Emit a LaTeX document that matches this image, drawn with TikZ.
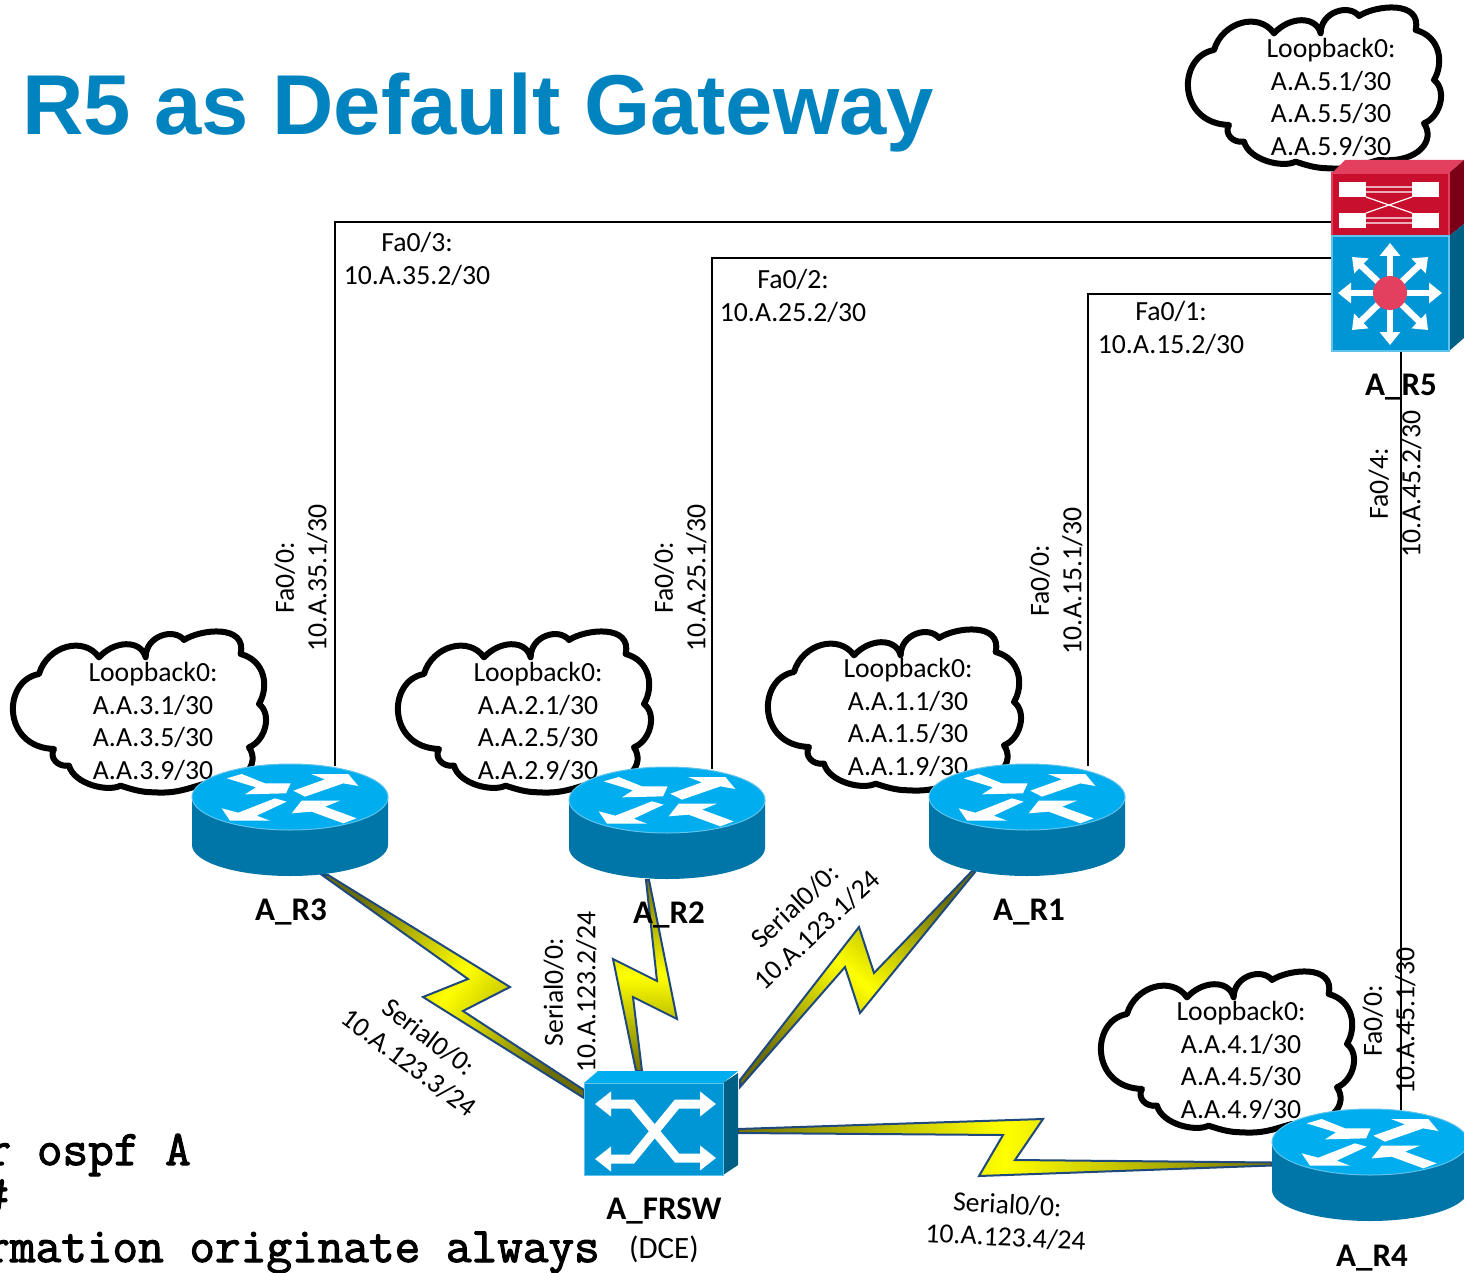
\documentclass[tikz,border=0pt]{standalone}
\usepackage{fontspec}
\usetikzlibrary{arrows.meta,calc}
\newfontfamily\lblfont{Carlito}
\newfontfamily\titlefont{Liberation Sans}
\newfontfamily\codefont[FakeBold=2.2]{Latin Modern Mono}
\definecolor{titleblue}{HTML}{0083BE}
\definecolor{topblue}{HTML}{00AEEF}
\definecolor{sideblue}{HTML}{0076A8}
\definecolor{frontblue}{HTML}{0096D6}
\definecolor{darkblue}{HTML}{005F85}
\definecolor{edgeblue}{HTML}{5FC3EC}
\definecolor{redfront}{HTML}{C8102E}
\definecolor{redtop}{HTML}{E34060}
\definecolor{redside}{HTML}{7A0018}
\definecolor{boltedge}{HTML}{1F497D}
\definecolor{boltdark}{HTML}{6E6E00}
\pgfdeclarehorizontalshading{boltshade}{100bp}{color(0bp)=(boltdark); color(24bp)=(boltdark); color(50bp)=(yellow); color(76bp)=(boltdark); color(100bp)=(boltdark)}
\tikzset{
  x=1pt,y=-1pt,
  devbox/.style={inner sep=0pt,outer sep=0pt,minimum width=#1},
  lbl/.style={inner sep=0pt,align=center,font=\lblfont\fontsize{27.7}{32.5}\selectfont},
  devname/.style={inner sep=0pt,font=\lblfont\bfseries\fontsize{33}{38}\selectfont},
  codetext/.style={inner sep=0pt,anchor=base east,font=\codefont\fontsize{49.8}{52}\selectfont},
  link/.style={draw=black,line width=2pt},
  bolt/.style={draw=boltedge,line width=2pt,line join=miter,shading=boltshade},
  cloudline/.style={draw=black,fill=white,line width=6pt,line join=round},
  routerarrow/.style={fill=white,draw=none},
}
\newcommand{\cloudshape}[2]{%
 \begin{scope}[shift={(#1,#2)},x=0.3333pt,y=-0.3333pt]
 \path[cloudline] (285,100) .. controls (330,50) and (410,45) .. (425,100)
  .. controls (425,35) and (510,10) .. (540,48)
  .. controls (590,15) and (730,0) .. (710,90)
  .. controls (785,110) and (795,190) .. (765,240)
  .. controls (805,270) and (785,350) .. (735,370)
  .. controls (770,420) and (720,490) .. (600,480)
  .. controls (560,490) and (520,510) .. (450,505)
  .. controls (410,505) and (380,495) .. (350,485)
  .. controls (310,505) and (210,480) .. (195,425)
  .. controls (160,430) and (135,400) .. (150,375)
  .. controls (-6,370) and (-6,170) .. (105,150)
  .. controls (130,65) and (240,35) .. (285,100) -- cycle;
 \end{scope}}
\newcommand{\routericon}[2]{%
 \fill[sideblue] (#1-98,#2) -- (#1-98,#2+48) arc[start angle=180,end angle=0,x radius=98,y radius=31] -- (#1+98,#2) -- cycle;
 \path[fill=topblue,draw=edgeblue,line width=1pt] (#1,#2) ellipse[x radius=98,y radius=33];
 \begin{scope}[shift={(#1,#2)},x=0.3333pt,y=-0.3333pt,shift={(-330,-141)}]
  \path[routerarrow] (140,85) -- (185,72) -- (255,100) -- (332,100) -- (318,130) -- (195,133) -- (228,112) -- cycle;
  \path[routerarrow] (340,122) -- (435,88) -- (393,72) -- (505,72) -- (535,108) -- (490,100) -- (375,140) -- cycle;
  \path[routerarrow] (320,155) -- (285,145) -- (175,188) -- (125,175) -- (150,212) -- (270,212) -- (230,197) -- cycle;
  \path[routerarrow] (335,190) -- (365,152) -- (480,152) -- (435,170) -- (530,205) -- (490,220) -- (395,185) -- cycle;
 \end{scope}}
\begin{document}
\begin{tikzpicture}[x=1pt,y=-1pt]
\useasboundingbox (0,0) rectangle (1464,1273);
\fill[white] (0,0) rectangle (1464,1273);

% invisible device frames
\node[devbox=132pt,minimum height=192pt] (R5) at (1398,256) {};
\node[devbox=196pt,minimum height=111pt] (R3) at (290,821) {};
\node[devbox=196pt,minimum height=111pt] (R2) at (667,824) {};
\node[devbox=196pt,minimum height=111pt] (R1) at (1027,821) {};
\node[devbox=196pt,minimum height=111pt] (R4) at (1370,1165.5) {};
\node[devbox=154pt,minimum height=104pt] (FRSW) at (661,1123) {};

% title and code text
\node[inner sep=0pt,anchor=base west,text=titleblue,font=\titlefont\bfseries\fontsize{85}{90}\selectfont] (title) at (22,135) {R5 as Default Gateway};
\node[codetext] (code1) at (191,1165) {r ospf A};
\node[codetext] (code2) at (9,1210) {\#};
\node[codetext] (code3) at (600,1262) {rmation originate always};

% clouds
\cloudshape{1179}{0}
\cloudshape{4}{624}
\cloudshape{389}{624}
\cloudshape{759}{622}
\cloudshape{1092}{964}
\node[lbl] (lo5) at (1331,97.5) {Loopback0:\\A.A.5.1/30\\A.A.5.5/30\\A.A.5.9/30};
\node[lbl] (lo3) at (153,721.5) {Loopback0:\\A.A.3.1/30\\A.A.3.5/30\\A.A.3.9/30};
\node[lbl] (lo2) at (538,721.5) {Loopback0:\\A.A.2.1/30\\A.A.2.5/30\\A.A.2.9/30};
\node[lbl] (lo1) at (908,717.5) {Loopback0:\\A.A.1.1/30\\A.A.1.5/30\\A.A.1.9/30};
\node[lbl] (lo4) at (1241,1060.5) {Loopback0:\\A.A.4.1/30\\A.A.4.5/30\\A.A.4.9/30};

% ethernet links
\draw[link] ([xshift=45pt]R3.north) |- ([yshift=34pt]R5.west);
\draw[link] ([xshift=45pt]R2.north) |- ([yshift=-2pt]R5.west);
\draw[link] ([xshift=61pt]R1.north) |- ([yshift=-38pt]R5.west);
\draw[link] ([xshift=3pt]R5.south) -- ([xshift=31pt]R4.north);

% serial links
\path[bolt,shading angle=-38] ([xshift=32pt,yshift=-54pt]R3.center) -- (468,979) -- (423,997) -- ([xshift=-77pt,yshift=25pt]FRSW.center) -- ([xshift=-77pt,yshift=33pt]FRSW.center) -- (463,1011) -- (510,987) -- ([xshift=38pt,yshift=-54pt]R3.center) -- cycle;
\path[bolt,shading angle=90] ([xshift=-21pt,yshift=-56pt]R2.center) -- (657,981) -- (613,959) -- ([xshift=-25pt,yshift=52pt]FRSW.center) -- ([xshift=-19pt,yshift=52pt]FRSW.center) -- (633,997) -- (677,1019) -- ([xshift=-18pt,yshift=-56pt]R2.center) -- cycle;
\path[bolt,shading angle=50] ([xshift=79pt,yshift=43pt]FRSW.center) -- (859,927) -- (874,973) -- ([xshift=-54pt,yshift=-49pt]R1.center) -- ([xshift=-52pt,yshift=-51pt]R1.center) -- (860,1013) -- (845,967) -- ([xshift=79pt,yshift=36pt]FRSW.center) -- cycle;
\path[bolt,shading angle=0] ([xshift=77pt,yshift=-6pt]FRSW.center) -- (1043,1119) -- (1015,1160) -- ([xshift=-98pt,yshift=3pt]R4.center) -- ([xshift=-98pt,yshift=0pt]R4.center) -- (979,1176) -- (1003,1135) -- ([xshift=77pt,yshift=-10pt]FRSW.center) -- cycle;

% routers
\routericon{290}{797}
\routericon{667}{800}
\routericon{1027}{797}
\routericon{1370}{1142}

% A_R5 multilayer switch
\fill[redtop] (1332,173) -- (1345,160) -- (1464,160) -- (1449,173) -- cycle;
\fill[redside] (1449,173) -- (1464,160) -- (1464,224) -- (1449,236) -- cycle;
\path[fill=redfront,draw=redtop,line width=1.5pt] (1332,173) rectangle (1449,236);
\fill[darkblue] (1449,236) -- (1464,224) -- (1464,338) -- (1449,351) -- cycle;
\path[fill=frontblue,draw=edgeblue,line width=1.5pt] (1332,236) rectangle (1449,351);
\foreach \rx/\ry in {1339/182,1412/182,1339/213,1412/213}
  \fill[white] (\rx,\ry) rectangle ++(27,15);
\draw[white,line width=1.2pt] (1366,187) -- (1412,187) (1366,192) -- (1412,192) (1366,218) -- (1412,218) (1366,223) -- (1412,223) (1366,197) -- (1412,213) (1366,213) -- (1412,197);
\foreach \tx/\ty in {1390/243,1390/345,1338/293,1442/293,1352/257,1428/257,1352/330,1428/330}
  \draw[white,line width=6.5pt,-{Triangle[length=13pt,width=20pt]}] (1390,293) -- (\tx,\ty);
\fill[redtop] (1390,293) circle[radius=17];

% A_FRSW
\fill[topblue] (584,1083) -- (598,1071) -- (738,1071) -- (723,1083) -- cycle;
\fill[darkblue] (723,1083) -- (738,1073) -- (738,1165) -- (723,1175) -- cycle;
\path[fill=frontblue,draw=edgeblue,line width=1pt] (584,1083) rectangle (723,1175);
\draw[white,line width=9pt,line join=miter,{Triangle[length=16pt,width=24pt]}-{Triangle[length=16pt,width=24pt]}] (595,1104) -- (632,1104) -- (677,1158) -- (716,1158);
\draw[white,line width=9pt,line join=miter,{Triangle[length=16pt,width=24pt]}-{Triangle[length=16pt,width=24pt]}] (595,1159) -- (632,1159) -- (677,1104) -- (716,1104);

% interface labels
\node[lbl] (l35) at (417,259) {Fa0/3:\\10.A.35.2/30};
\node[lbl] (l25) at (793,296) {Fa0/2:\\10.A.25.2/30};
\node[lbl] (l15) at (1171,328) {Fa0/1:\\10.A.15.2/30};
\node[lbl,rotate=90] (l3) at (301,578) {Fa0/0:\\10.A.35.1/30};
\node[lbl,rotate=90] (l2) at (680,578) {Fa0/0:\\10.A.25.1/30};
\node[lbl,rotate=90] (l1) at (1056,581) {Fa0/0:\\10.A.15.1/30};
\node[lbl,rotate=90] (l5) at (1395,484) {Fa0/4:\\10.A.45.2/30};
\node[lbl,rotate=90] (l4) at (1389,1021) {Fa0/0:\\10.A.45.1/30};
\node[lbl,rotate=-37] (s3) at (419,1050) {Serial0/0:\\10.A.123.3/24};
\node[lbl,rotate=90] (s2) at (570,992) {Serial0/0:\\10.A.123.2/24};
\node[lbl,rotate=43] (s1) at (806,918) {Serial0/0:\\10.A.123.1/24};
\node[lbl,rotate=-3] (s4) at (1006.5,1221) {Serial0/0:\\10.A.123.4/24};

% device names
\node[devname] (n5) at (1401,387) {A\_R5};
\node[devname] (n3) at (291,912) {A\_R3};
\node[devname] (n2) at (669,915) {A\_R2};
\node[devname] (n1) at (1029,912) {A\_R1};
\node[devname] (n4) at (1372,1258) {A\_R4};
\node[devname] (nf) at (664,1211) {A\_FRSW};
\node[lbl,font=\lblfont\fontsize{31}{36}\selectfont] (dce) at (664,1249) {(DCE)};
\end{tikzpicture}
\end{document}
